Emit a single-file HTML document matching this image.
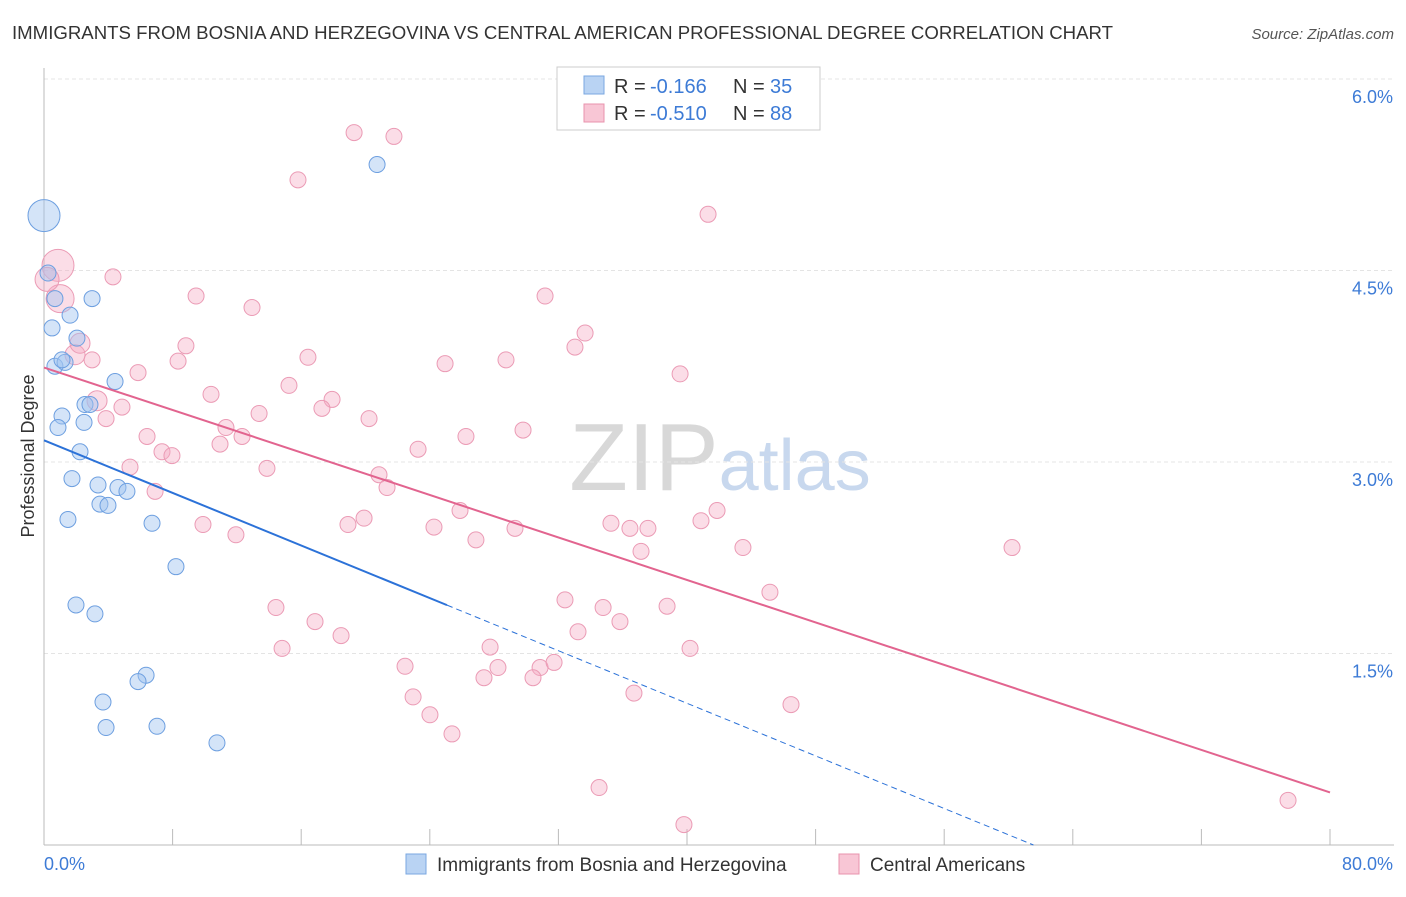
<!DOCTYPE html>
<html><head><meta charset="utf-8"><style>
body{margin:0;background:#fff;font-family:"Liberation Sans",sans-serif;}
svg text{font-family:"Liberation Sans",sans-serif;}
</style></head><body>
<svg id="chart" width="1406" height="892" xmlns="http://www.w3.org/2000/svg">
<text x="12" y="39" font-size="18" fill="#333" textLength="1101" lengthAdjust="spacingAndGlyphs">IMMIGRANTS FROM BOSNIA AND HERZEGOVINA VS CENTRAL AMERICAN PROFESSIONAL DEGREE CORRELATION CHART</text>
<text x="1394" y="39" font-size="15" fill="#555" text-anchor="end" font-style="italic">Source: ZipAtlas.com</text>
<text x="720" y="490" font-size="96" text-anchor="middle" fill="#ddd" font-family="Liberation Serif"><tspan fill="#d8d8d8">ZIP</tspan><tspan font-family="Liberation Sans" font-size="72" fill="#c8d8ee">atlas</tspan></text>
<g id="grid"></g>
<g id="axes"></g>
<g id="marks"></g>
<text transform="translate(34,456) rotate(-90)" font-size="18" fill="#333" text-anchor="middle">Professional Degree</text>
<g>
<rect x="557" y="67" width="263" height="63" fill="#fff" stroke="#ccc"/>
<rect x="584" y="76" width="20" height="18" fill="#b9d3f3" stroke="#7aa7e0"/>
<text x="614" y="93" font-size="20" fill="#333">R =</text>
<text x="650" y="93" font-size="20" fill="#3d7bd6">-0.166</text>
<text x="733" y="93" font-size="20" fill="#333">N =</text>
<text x="770" y="93" font-size="20" fill="#3d7bd6">35</text>
<rect x="584" y="104" width="20" height="18" fill="#f8c6d5" stroke="#e893ad"/>
<text x="614" y="120" font-size="20" fill="#333">R =</text>
<text x="650" y="120" font-size="20" fill="#3d7bd6">-0.510</text>
<text x="733" y="120" font-size="20" fill="#333">N =</text>
<text x="770" y="120" font-size="20" fill="#3d7bd6">88</text>
</g>
<g>
<rect x="406" y="854" width="20" height="20" fill="#b9d3f3" stroke="#7aa7e0"/>
<text x="437" y="871" font-size="19" fill="#333">Immigrants from Bosnia and Herzegovina</text>
<rect x="839" y="854" width="20" height="20" fill="#f8c6d5" stroke="#e893ad"/>
<text x="870" y="871" font-size="19" fill="#333">Central Americans</text>
</g>
</svg>
<script>
const blueX=[0,0.25,0.68,0.5,2.99,1.62,2.05,0.68,1.31,1.12,0.87,2.55,2.86,2.49,2.24,1.74,3.36,4.6,5.16,4.42,3.48,3.98,1.49,6.72,8.21,1.99,3.17,6.35,5.85,3.67,3.86,7.03,10.76,20.72,1.12];
const blueY=[4.93,4.48,4.28,4.05,4.28,4.15,3.97,3.75,3.78,3.36,3.27,3.45,3.45,3.31,3.08,2.87,2.82,2.80,2.77,3.63,2.67,2.66,2.55,2.52,2.18,1.88,1.81,1.33,1.28,1.12,0.92,0.93,0.80,5.33,3.80];
const pinkX=[0.87,1.0,0.19,4.29,9.46,12.94,19.29,21.77,15.80,41.31,31.17,33.66,33.03,8.83,8.34,16.42,24.95,28.74,39.57,5.85,2.99,1.93,2.24,3.30,4.85,3.86,10.39,15.24,17.92,17.29,13.38,20.22,11.32,6.41,12.32,10.95,7.34,7.96,26.25,29.80,23.27,5.35,13.87,20.84,21.34,6.91,25.88,19.91,18.91,9.89,11.94,24.26,26.87,29.30,35.27,36.45,37.57,40.87,41.87,37.14,43.48,60.22,45.16,32.41,34.78,38.76,35.83,33.22,14.43,16.86,18.48,14.81,27.75,40.19,22.46,28.24,30.86,31.73,27.37,30.42,36.70,22.96,46.47,24.01,25.38,34.53,39.81,77.39];
const pinkY=[4.54,4.28,4.43,4.45,4.30,4.21,5.58,5.55,5.21,4.94,4.30,4.01,3.90,3.91,3.79,3.82,3.77,3.80,3.69,3.70,3.80,3.84,3.93,3.48,3.43,3.34,3.53,3.60,3.49,3.42,3.38,3.34,3.27,3.20,3.20,3.14,3.08,3.05,3.20,3.25,3.10,2.96,2.95,2.90,2.80,2.77,2.62,2.56,2.51,2.51,2.43,2.49,2.39,2.48,2.52,2.48,2.48,2.54,2.62,2.30,2.33,2.33,1.98,1.92,1.86,1.87,1.75,1.67,1.86,1.75,1.64,1.54,1.55,1.54,1.40,1.39,1.39,1.43,1.31,1.31,1.19,1.16,1.10,1.02,0.87,0.45,0.16,0.35];
const blueSize=[16,8,8,8,8,8,8,8,8,8,8,8,8,8,8,8,8,8,8,8,8,8,8,8,8,8,8,8,8,8,8,8,8,8,8];
const pinkSize=[16,14,12,8,8,8,8,8,8,8,8,8,8,8,8,8,8,8,8,8,8,10,10,10];
const blueTrend=[3.17,-0.0515];
const pinkTrend=[3.74,-0.0416];
const yTicks=[1.5,3.0,4.5,6.0];
const xTicks=[0,8,16,24,32,40,48,56,64,72,80];
const NS="http://www.w3.org/2000/svg";
const xs=v=>44+v*16.075, ys=v=>845-v*127.67;
function mk(p,t,a){const e=document.createElementNS(NS,t);for(const k in a)e.setAttribute(k,a[k]);p.appendChild(e);return e;}
const grid=document.getElementById('grid'),axes=document.getElementById('axes'),marks=document.getElementById('marks');
yTicks.forEach(t=>{
 const l=mk(grid,'line',{x1:44,x2:1394,y1:ys(t),y2:ys(t),stroke:'#e4e4e4','stroke-dasharray':'4,3'});
 
 
 const tx=mk(grid,'text',{x:1393,y:ys(t)+24,'font-size':18,fill:'#3d7bd6','text-anchor':'end'});
 tx.textContent=t.toFixed(1)+'%';
 
 
});
mk(axes,'line',{x1:44,x2:44,y1:68,y2:845,stroke:'#bbb'});
mk(axes,'line',{x1:44,x2:1394,y1:845,y2:845,stroke:'#bbb'});
xTicks.forEach(t=>{const l=mk(axes,'line',{x1:xs(t),x2:xs(t),y1:829,y2:845,stroke:'#bbb'});
 
 });
const xl0=mk(axes,'text',{x:44,y:870,'font-size':18,fill:'#3d7bd6'});xl0.textContent=xTicks[0].toFixed(1)+'%';


const xl1=mk(axes,'text',{x:1393,y:870,'font-size':18,fill:'#3d7bd6','text-anchor':'end'});xl1.textContent=xTicks[xTicks.length-1].toFixed(1)+'%';


pinkX.forEach((v,i)=>{const c=mk(marks,'circle',{cx:xs(v),cy:ys(pinkY[i]),r:pinkSize[i]||8,fill:'rgba(245,170,195,0.4)',stroke:'#eb9bb5','stroke-width':1});
 
 });
blueX.forEach((v,i)=>{const c=mk(marks,'circle',{cx:xs(v),cy:ys(blueY[i]),r:blueSize[i]||8,fill:'rgba(160,195,240,0.45)',stroke:'#6d9fe0','stroke-width':1});
 
 });
const bEnd=25.07, bZero=-blueTrend[0]/blueTrend[1];
const b1=mk(marks,'line',{x1:xs(0),y1:ys(blueTrend[0]),x2:xs(bEnd),y2:ys(blueTrend[0]+blueTrend[1]*bEnd),stroke:'#2c72d8','stroke-width':2});


const b2=mk(marks,'line',{x1:xs(bEnd),y1:ys(blueTrend[0]+blueTrend[1]*bEnd),x2:xs(bZero),y2:ys(0),stroke:'#2c72d8','stroke-width':1,'stroke-dasharray':'6,4'});


const p1=mk(marks,'line',{x1:xs(0),y1:ys(pinkTrend[0]),x2:xs(80),y2:ys(pinkTrend[0]+pinkTrend[1]*80),stroke:'#e2648f','stroke-width':2});


</script>
</body></html>
